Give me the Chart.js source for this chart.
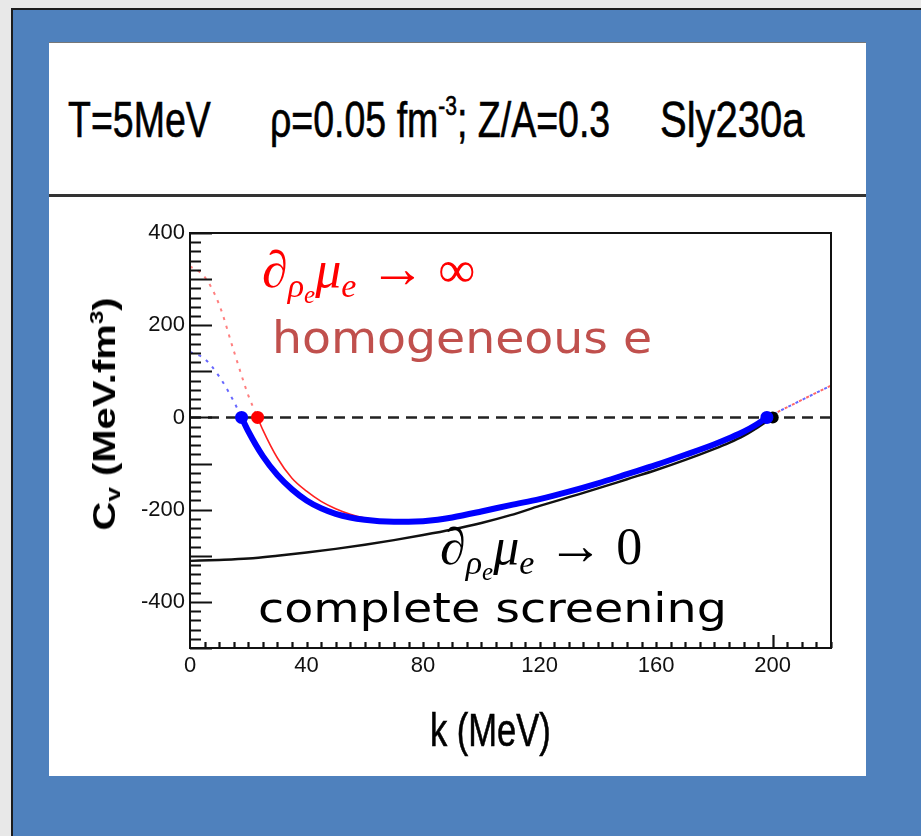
<!DOCTYPE html>
<html>
<head>
<meta charset="utf-8">
<script src="https://cdn.jsdelivr.net/npm/chart.js@4/dist/chart.umd.min.js"></script>
<style>
  html, body { margin: 0; padding: 0; }
  body { width: 921px; height: 836px; position: relative; overflow: hidden; background: #e8e8e8; font-family: 'Liberation Sans', Arial, sans-serif; }
  #slide  { position: absolute; left: 11px; top: 8px; width: 910px; height: 828px; background: #4f81bd; border-left: 2px solid #1c1c1c; border-top: 2px solid #1c1c1c; }
  #panel  { position: absolute; left: 49px; top: 42px; width: 817px; height: 733px; background: #fff; border-top: 1px solid #777; }
  #hline  { position: absolute; left: 49px; top: 194px; width: 817px; height: 3px; background: #333; }
  #wrap   { position: absolute; left: 49px; top: 198px; width: 817px; height: 577px; }
  .hdr    { position: absolute; top: 95px; font-size: 50px; line-height: 1; white-space: nowrap; color: #000; transform-origin: 0 0; -webkit-text-stroke: 0.6px #000; }
  .sup    { font-size: 28px; position: relative; top: -22px; }
  #xtitle { position: absolute; left: 430px; top: 707px; font-size: 46px; line-height: 1; transform: scaleX(0.75); transform-origin: 0 0; white-space: nowrap; -webkit-text-stroke: 0.6px #000; }
  #ytitle { position: absolute; left: 105px; top: 414px; font-size: 40px; font-weight: bold; line-height: 1; white-space: nowrap;
            transform: translate(-50%, -50%) rotate(-90deg) scaleY(0.8); }
  #ytitle sub { font-size: 26px; vertical-align: -6px; }
  #ytitle sup { font-size: 24px; vertical-align: 16px; }
  .math   { position: absolute; font-family: 'Liberation Serif', 'DejaVu Serif', serif; font-size: 52px; line-height: 1; white-space: nowrap; }
  .math i { font-style: italic; }
  .math .s1 { font-size: 34px; position: relative; top: 10px; }
  .math .s2 { font-size: 25px; position: relative; top: 6px; }
  .math .ar { font-size: 56px; }
  .note   { position: absolute; font-family: 'DejaVu Sans', Verdana, sans-serif; line-height: 1; white-space: nowrap; transform-origin: 0 0; }
</style>
</head>
<body>
<div id="slide"></div>
<div id="panel"></div>
<div id="hline"></div>

<div class="hdr" style="left:68px; transform:scaleX(0.75)">T=5MeV</div>
<div class="hdr" style="left:270px; transform:scaleX(0.75)">ρ=0.05 fm<span class="sup">-3</span>; Z/A=0.3</div>
<div class="hdr" style="left:660px; transform:scaleX(0.8)">Sly230a</div>

<div id="wrap"><canvas id="chartCv" width="817" height="577"></canvas></div>

<div id="ytitle">C<sub>v</sub> (MeV.fm<sup>3</sup>)</div>
<div id="xtitle">k (MeV)</div>

<div class="math" style="left:262px; top:240px; color:#ff0000"><i>∂</i><span class="s1"><i>ρ</i><span class="s2"><i>e</i></span></span><i>μ</i><span class="s1"><i>e</i></span> <span class="ar">→</span> ∞</div>
<div class="note" style="left:272px; top:316px; font-size:44px; color:#c0504d; transform:scaleX(1.076)">homogeneous e</div>
<div class="math" style="left:440px; top:517px; color:#000"><i>∂</i><span class="s1"><i>ρ</i><span class="s2"><i>e</i></span></span><i>μ</i><span class="s1"><i>e</i></span> <span class="ar">→</span> 0</div>
<div class="note" style="left:258px; top:588px; font-size:41px; color:#000; transform:scaleX(1.16)">complete screening</div>

<script>
// k (MeV) / C_v (MeV.fm^3)
const kBlue  = [17.7, 20, 25, 30, 35, 40, 45, 50, 55, 60, 65, 70, 75, 80, 85, 90, 100, 110, 120, 130, 140, 150, 160, 170, 180, 185, 190, 194, 198];
const cBlue  = [0, -30, -84, -125, -156, -180, -197, -209, -217, -222, -225, -226, -226, -225, -222, -217, -204, -190, -177, -161, -143, -123, -103, -81, -58, -45, -31, -17, 0];

const kRed   = [23.2, 25, 30, 35, 40, 45, 50, 55, 60, 65, 70, 75, 80, 85, 90, 100, 110, 120, 130, 140, 150, 160, 170, 180, 185, 190, 194, 198];
const cRed   = [0, -27, -88, -132, -160, -182, -198, -210, -218, -223, -225, -226, -225, -222, -217, -204, -190, -177, -161, -143, -123, -103, -81, -58, -45, -31, -17, 0];

const kBlack = [0, 10, 20, 30, 40, 50, 60, 70, 80, 90, 100, 110, 120, 130, 140, 150, 160, 170, 180, 185, 190, 195, 200];
const cBlack = [-311, -309, -306, -300, -293, -285, -276, -266, -255, -243, -229, -212, -192, -173, -154, -134, -114, -92, -68, -55, -40, -21, 0];

// dotted continuations
const kBlueLeft = [0, 5, 10, 15, 17.7];
const cBlueLeft = [142, 127, 89, 35, 0];
const kRedLeft  = [0, 5, 10, 15, 20, 23.2];
const cRedLeft  = [328, 305, 245, 145, 48, 0];
const kRight    = [198, 210, 220];
const cRight    = [0, 38, 69];

// end points (C_v = 0)
const kBlueDots  = [17.7, 198];
const kRedDots   = [23.2];
const kBlackDots = [200];

const xTicks = [0, 40, 80, 120, 160, 200];
const yTicks = [-400, -200, 0, 200, 400];

const pts  = (ks, cs) => ks.map((k, i) => ({ x: k, y: cs[i] }));
const zero = ks => ks.map(k => ({ x: k, y: 0 }));

const line = (data, color, width, extra) => Object.assign({
  data, borderColor: color, backgroundColor: color, borderWidth: width,
  pointRadius: 0, tension: 0.4, cubicInterpolationMode: 'monotone', fill: false,
}, extra || {});

const dots = (data, color, r) => ({
  data, showLine: false, pointRadius: r, pointBackgroundColor: color, pointBorderColor: color, pointBorderWidth: 0,
});

// ROOT-like inward ticks + frame
const rootFrame = {
  id: 'rootFrame',
  afterDatasetsDraw(chart) {
    const { ctx, chartArea: a, scales: { x, y } } = chart;
    ctx.save();
    ctx.strokeStyle = '#111';
    ctx.lineWidth = 2.2;
    ctx.beginPath();
    for (let v = -500; v <= 400; v += 20) {
      const py = Math.round(y.getPixelForValue(v)) + 0.5;
      const len = v % 100 === 0 ? 22 : 11;
      ctx.moveTo(a.left, py); ctx.lineTo(a.left + len, py);
    }
    for (let v = 5; v <= 220; v += 5) {
      const px = Math.round(x.getPixelForValue(v)) + 0.5;
      const len = v === 200 ? 13 : 6;
      ctx.moveTo(px, a.bottom); ctx.lineTo(px, a.bottom - len);
    }
    ctx.stroke();
    ctx.lineWidth = 2;
    ctx.strokeRect(a.left, a.top, a.right - a.left, a.bottom - a.top);
    ctx.restore();
  }
};

const tickFont = { family: "'Liberation Sans', Arial, sans-serif", size: 22 };

new Chart(document.getElementById('chartCv').getContext('2d'), {
  type: 'line',
  data: {
    datasets: [
      dots(zero(kBlueDots), '#0000ff', 6.5),
      line(pts(kBlue, cBlue), '#0000ff', 6),
      dots(zero(kRedDots), '#ff0000', 6.5),
      line(pts(kRed, cRed), '#ff2020', 1.6),
      dots(zero(kBlackDots), '#000000', 6),
      line(pts(kBlack, cBlack), '#111111', 2.4),
      line(pts(kRight, cRight), 'rgba(0,0,255,0.6)', 2, { borderDash: [3, 5] }),
      line(pts(kRight, cRight), 'rgba(255,0,0,0.6)', 2, { borderDash: [3, 5], borderDashOffset: 4 }),
      line(pts(kBlueLeft, cBlueLeft), 'rgba(0,0,255,0.6)', 2, { borderDash: [3, 6] }),
      line(pts(kRedLeft, cRedLeft), 'rgba(255,0,0,0.5)', 2, { borderDash: [3, 6] }),
      line(zero([0, 220]), '#222222', 2.4, { borderDash: [11, 7], tension: 0 }),
    ],
  },
  options: {
    responsive: false, animation: false, maintainAspectRatio: false,
    layout: { padding: { left: 0, right: 35, top: 35, bottom: 87 } },
    plugins: { legend: { display: false }, tooltip: { enabled: false } },
    scales: {
      x: {
        type: 'linear', min: 0, max: 220,
        grid: { display: false, drawTicks: false },
        border: { display: true, color: '#111', width: 2 },
        ticks: { padding: 5, font: tickFont, color: '#111', maxRotation: 0, autoSkip: false },
        afterBuildTicks: s => { s.ticks = xTicks.map(v => ({ value: v })); },
        afterFit: s => { s.height = 40; },
      },
      y: {
        type: 'linear', min: -500, max: 400,
        grid: { display: false, drawTicks: false },
        border: { display: true, color: '#111', width: 2 },
        ticks: { padding: 5, font: tickFont, color: '#111', autoSkip: false },
        afterBuildTicks: s => { s.ticks = yTicks.map(v => ({ value: v })); },
        afterFit: s => { s.width = 141; },
      },
    },
  },
  plugins: [rootFrame],
});
</script>
</body>
</html>
